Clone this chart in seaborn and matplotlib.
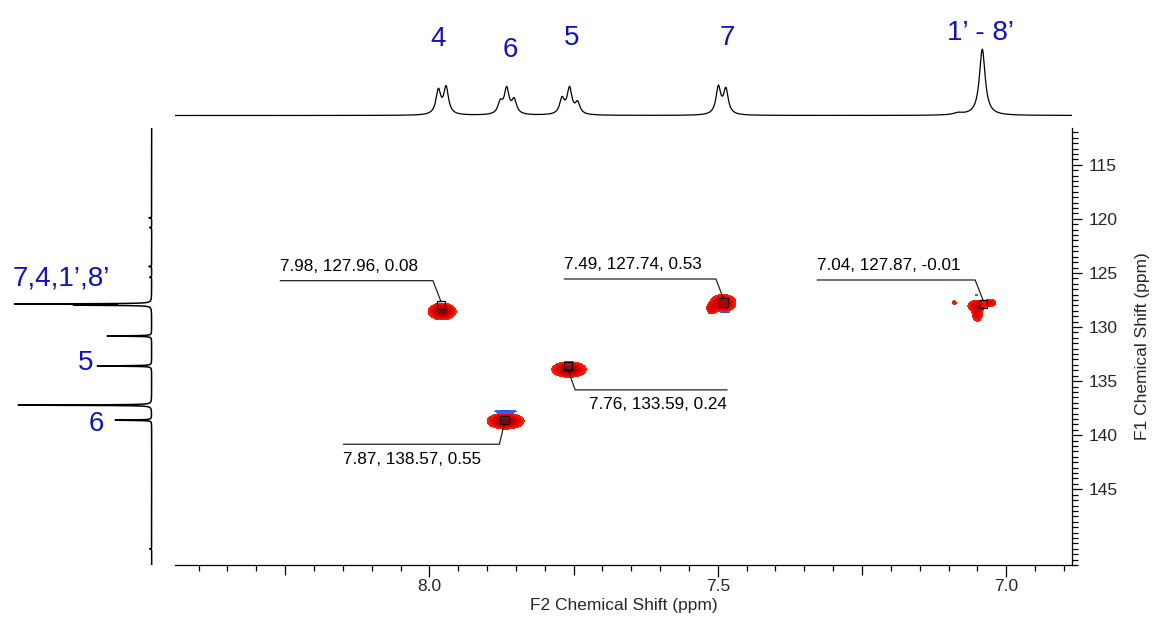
import numpy as np
import matplotlib
matplotlib.use("Agg")
import matplotlib.pyplot as plt
from matplotlib.ticker import MultipleLocator, FixedLocator, FuncFormatter
from matplotlib.colors import LinearSegmentedColormap
import seaborn as sns

# ---------------- data ----------------
# 1H projection (F2): peak positions (ppm), heights (rel.), widths (FWHM, ppm)
h_shift = [7.9844, 7.9710, 7.8770, 7.8660, 7.8530, 7.7700, 7.7570, 7.7430,
           7.4990, 7.4860, 7.0415, 7.0830]
h_height = [0.36, 0.406, 0.17, 0.38, 0.21, 0.23, 0.39, 0.17,
            0.41, 0.373, 1.00, 0.03]
h_width = [0.010, 0.010, 0.010, 0.010, 0.010, 0.010, 0.010, 0.010,
           0.010, 0.010, 0.012, 0.020]
h_labels = ["4", "6", "5", "7", "1\u2019 - 8\u2019"]
h_label_ppm = [7.9854, 7.860, 7.753, 7.484, 7.045]
h_label_level = [1.156, 0.989, 1.171, 1.171, 1.251]

# 13C projection (F1)
c_shift = [127.87, 127.98, 130.83, 133.60, 137.22, 138.61, 119.9, 120.8, 124.4, 125.4, 150.5]
c_height = [1.00, 0.54, 0.334, 0.409, 1.00, 0.274, 0.02, 0.015, 0.02, 0.015, 0.015]
c_labels = ["7,4,1\u2019,8\u2019", "5", "6"]
c_label_ppm = [125.55, 133.3, 138.98]
c_label_level = [0.678, 0.494, 0.412]

# HSQC cross peaks (positive, red): F2 ppm, F1 ppm, sigma F2, sigma F1, amplitude
pos_x = [7.978, 7.758, 7.868, 7.491, 7.511, 7.052, 7.028, 7.050, 7.090]
pos_y = [128.56, 133.93, 138.70, 127.78, 128.33, 128.05, 127.77, 128.89, 127.75]
pos_sx = [0.0125, 0.0154, 0.0165, 0.012, 0.005, 0.0087, 0.007, 0.0052, 0.0026]
pos_sy = [0.40, 0.37, 0.38, 0.43, 0.30, 0.32, 0.23, 0.37, 0.14]
pos_amp = [1.0, 1.0, 1.0, 0.85, 0.45, 0.6, 0.4, 0.5, 0.3]
# negative (blue)
neg_x = [7.868, 7.487, 7.0508]
neg_y = [137.80, 128.62, 127.03]
neg_sx = [0.014, 0.006, 0.0015]
neg_sy = [0.07, 0.06, 0.06]
neg_amp = [0.4, 0.35, 0.3]

# picked peaks: F2, F1, intensity
pk_x = [7.98, 7.49, 7.04, 7.76, 7.87]
pk_y = [127.96, 127.74, 127.87, 133.59, 138.57]
pk_z = [0.08, 0.53, -0.01, 0.24, 0.55]

XLIM = (8.441, 6.886)
YLIM = (152.0, 111.6)

# ---------------- style ----------------
sns.set_style("white")
plt.rcParams["font.family"] = ["Liberation Sans", "DejaVu Sans"]
BLUE = "#1010cc"
W, H = 1153, 628

fig = plt.figure(figsize=(W / 100, H / 100), dpi=100)
ax = fig.add_axes([175 / W, 1 - 565 / H, 897 / W, 437 / H])
axt = fig.add_axes([175 / W, 1 - 120 / H, 897 / W, 120 / H])
axl = fig.add_axes([5 / W, 1 - 565 / H, 150 / W, 437 / H])

# ---------------- main 2D ----------------
ax.set_xlim(*XLIM)
ax.set_ylim(*YLIM)
gx = np.linspace(XLIM[1], XLIM[0], 1800)
gy = np.linspace(YLIM[1], YLIM[0], 1000)
GX, GY = np.meshgrid(gx, gy)


def field(xs, ys, sxs, sys_, amps):
    Z = np.zeros_like(GX)
    for x0, y0, sx, sy, a in zip(xs, ys, sxs, sys_, amps):
        Z += a * np.exp(-0.5 * (((GX - x0) / sx) ** 2 + ((GY - y0) / sy) ** 2))
    return Z


Zp = field(pos_x, pos_y, pos_sx, pos_sy, pos_amp)
Zn = field(neg_x, neg_y, neg_sx, neg_sy, neg_amp)
red_cmap = LinearSegmentedColormap.from_list(
    "reds", ["#ff2400", "#e80800", "#d00000", "#b00000", "#7a0000"])
blue_cmap = LinearSegmentedColormap.from_list("blues", ["#4a7eff", "#2050ff"])
pos_levels = list(np.linspace(0.15, 1.0, 12)) + [5]
ax.contourf(GX, GY, Zp, levels=pos_levels, cmap=red_cmap, vmin=0.15, vmax=1.0,
            antialiased=False, zorder=2)
ax.contourf(GX, GY, Zn, levels=[0.15, 0.3, 5], cmap=blue_cmap, vmin=0.15, vmax=0.3,
            antialiased=False, zorder=2)

sns.scatterplot(x=pk_x, y=pk_y, marker="s", s=36, facecolor="none",
                edgecolor="black", linewidth=0.9, ax=ax, zorder=5, legend=False)

# annotation layout (pixel offsets, image y-down): elbow dx, dy, line length (signed), text below?
ann_layout = [(-8, -24.3, -152.7, False), (-7.7, -23.6, -151.7, False),
              (-8, -24.0, -158, False), (7.3, 24.0, 152, True), (-5, 24.5, -156, True)]


def off(x, y, dx, dy):
    X, Y = ax.transData.transform((x, y))
    return ax.transData.inverted().transform((X + dx, Y - dy))


for (x, y, z), (edx, edy, ldx, below) in zip(zip(pk_x, pk_y, pk_z), ann_layout):
    bx, by = off(x, y, 0, 3.5 if below else -3.5)
    ex, ey = off(x, y, edx, edy)
    lx, ly = off(x, y, edx + ldx, edy)
    ax.plot([lx, ex, bx], [ly, ey, by], color="#222222", lw=0.9, zorder=4)
    txt = f"{x:.2f}, {y:.2f}, {z:.2f}"
    tx, ty = off(x, y, edx + ldx, edy + (15 if below else -14))
    ha = "right" if ldx > 0 else "left"
    ax.text(tx, ty, txt, ha=ha, va="center", fontsize=12.3, color="black", zorder=6)

for s in ["left", "top"]:
    ax.spines[s].set_visible(False)
for s in ["bottom", "right"]:
    ax.spines[s].set_color("black")
    ax.spines[s].set_linewidth(0.9)

ax.xaxis.set_major_locator(MultipleLocator(0.25))
ax.xaxis.set_minor_locator(MultipleLocator(0.05))
ax.xaxis.set_major_formatter(FuncFormatter(
    lambda v, p: f"{v:.1f}" if abs(v * 2 - round(v * 2)) < 1e-6 else ""))
ax.tick_params(axis="x", which="major", direction="out", length=7.2, width=0.9,
               labelsize=12.5, pad=3, color="black", bottom=True)
ax.tick_params(axis="x", which="minor", direction="out", length=4.3, width=0.9,
               color="black", bottom=True)
ax.yaxis.tick_right()
ax.yaxis.set_label_position("right")
ax.yaxis.set_major_locator(FixedLocator([115, 120, 125, 130, 135, 140, 145]))
ax.yaxis.set_minor_locator(MultipleLocator(0.5))
ax.tick_params(axis="y", which="major", direction="out", length=7.2, width=0.9,
               labelsize=12.5, pad=5, color="black", right=True, left=False)
ax.tick_params(axis="y", which="minor", direction="out", length=4.0, width=0.9,
               color="black", right=True, left=False)
ax.set_xlabel("F2 Chemical Shift (ppm)", fontsize=12.5, labelpad=3)
ax.set_ylabel("F1 Chemical Shift (ppm)", fontsize=12.5, labelpad=12)
ax.grid(False)

locs = ax.xaxis.get_majorticklocs()
for loc, t in zip(locs, ax.xaxis.get_major_ticks(len(locs))):
    if abs(loc * 2 - round(loc * 2)) < 1e-6:
        t.tick1line.set_markersize(8.6)

# ---------------- top 1H trace ----------------
xh = np.linspace(XLIM[1], XLIM[0], 5000)
Ih = np.zeros_like(xh)
for p, a, w in zip(h_shift, h_height, h_width):
    Ih += a / (1 + ((xh - p) / (w / 2)) ** 2)
sns.lineplot(x=xh, y=Ih, color="black", lw=0.9, ax=axt, sort=False, estimator=None)
axt.set_xlim(*XLIM)
axt.set_ylim(-0.068, 1.745)
axt.axis("off")
for lab, p, lv in zip(h_labels, h_label_ppm, h_label_level):
    axt.text(p, lv, lab, ha="center", va="center", fontsize=20, color=BLUE)

# ---------------- left 13C trace ----------------
yc = np.linspace(YLIM[1], YLIM[0], 9000)
Ic = np.zeros_like(yc)
for p, a in zip(c_shift, c_height):
    Ic += a / (1 + ((yc - p) / 0.025) ** 2)
sns.lineplot(x=Ic, y=yc, color="black", lw=1.1, ax=axl, sort=False, estimator=None)
axl.set_ylim(*YLIM)
axl.set_xlim(1.097, -0.025)
axl.axis("off")
for lab, p, lv in zip(c_labels, c_label_ppm, c_label_level):
    axl.text(lv, p, lab, ha="center", va="center", fontsize=20, color=BLUE)

fig.savefig("out.png", dpi=100)
